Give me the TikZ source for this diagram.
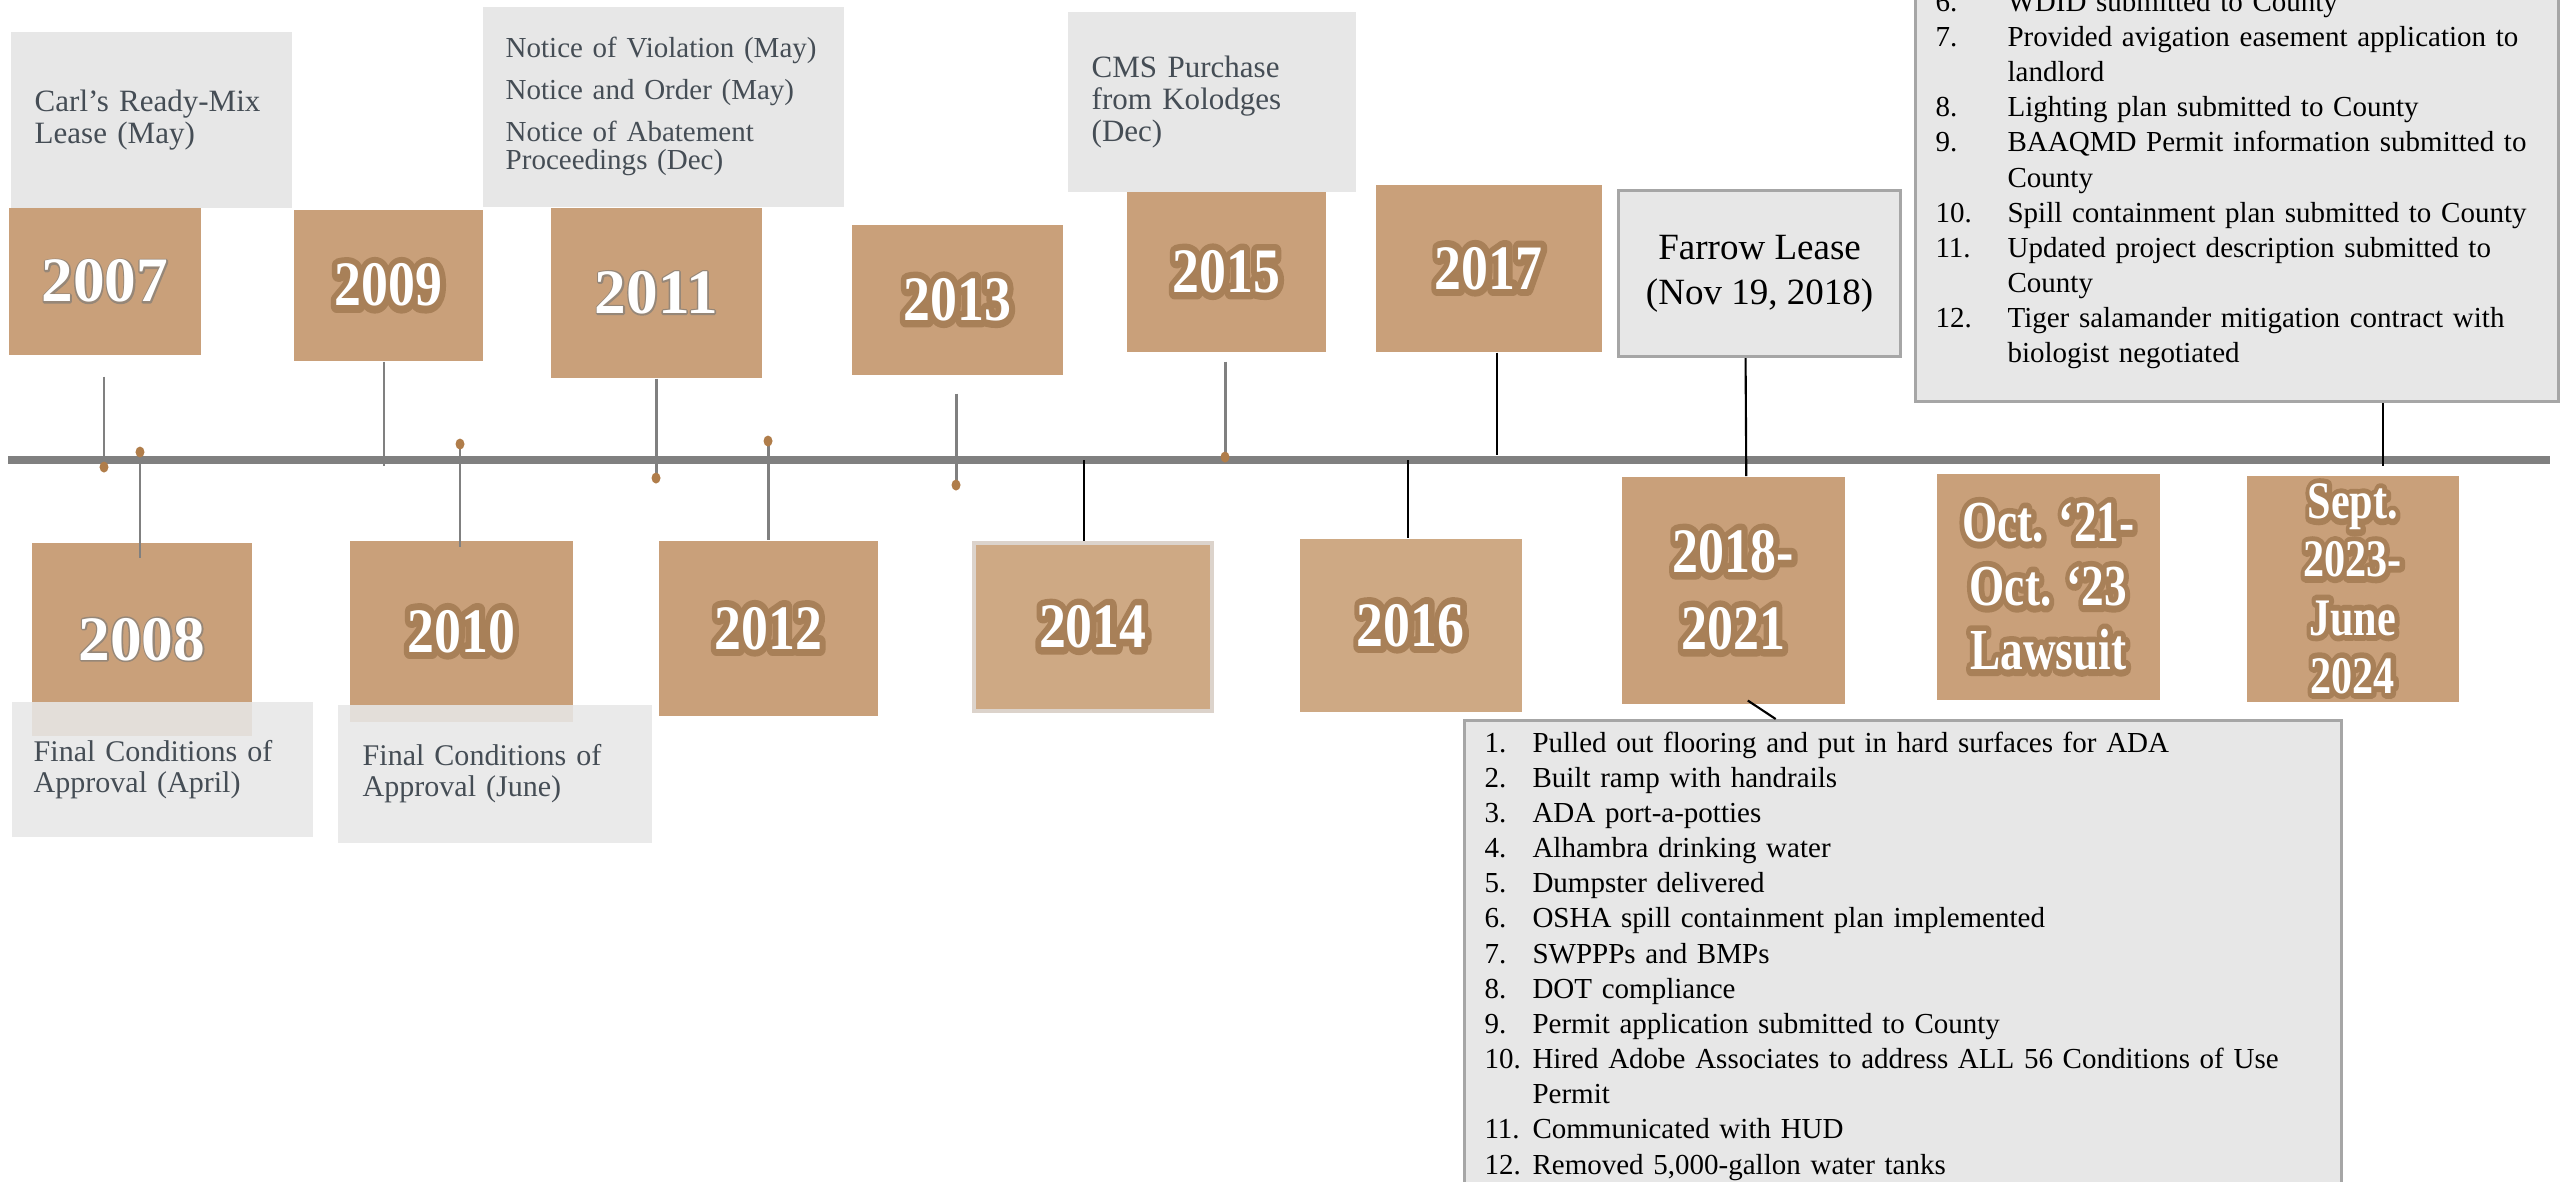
\documentclass[tikz,border=0pt]{standalone}
\usepackage{fontspec}
\setmainfont{Liberation Serif}
\newfontface\yrfat{Liberation Serif Bold}[FakeBold=22]
\newfontface\yrsoftfat{Liberation Serif Bold}[FakeBold=5]
\usepackage{graphicx}
\usepackage{tikz}
\usetikzlibrary{positioning,calc}
\definecolor{tltan}{RGB}{201,160,122}
\definecolor{tltanlt}{RGB}{206,169,132}
\definecolor{tltanedge}{RGB}{220,211,203}
\definecolor{tlbrown}{RGB}{168,128,88}
\definecolor{tlshade}{RGB}{150,135,120}
\definecolor{tldot}{RGB}{176,125,74}
\definecolor{tlgray}{RGB}{128,128,128}
\definecolor{notefill}{RGB}{231,231,231}
\definecolor{noteedge}{RGB}{166,166,166}
\definecolor{notetext}{RGB}{69,77,85}

% outlined year: fat brown copy (round joins) under the white one
\newcommand{\yr}[2][0.85]{\special{pdf:code 1 j}\scalebox{#1}[1]{\rlap{\textcolor{tlbrown}{\yrfat #2}}#2}}
\newcommand{\yrsoft}[1]{\special{pdf:code 1 j}\rlap{\textcolor{tlshade}{\yrsoftfat #1}}#1}

\begin{document}
\begin{tikzpicture}[
  x=0.01cm, y=-0.01cm,
  yearbox/.style={fill=tltan, inner sep=0pt, anchor=north west, text=white, align=center, font=\fontsize{18}{21.9}\selectfont\bfseries},
  yearlite/.style={yearbox, fill=tltanlt},
  note/.style={fill=notefill, inner sep=0pt, anchor=north west, text=notetext, align=left, font=\fontsize{8.82}{9.1}\selectfont},
  noteover/.style={note, fill opacity=0.88, text opacity=1},
  framed/.style={fill=notefill, draw=noteedge, line width=0.85pt},
  pin/.style={draw=tlgray, line width=0.85pt},
  stem/.style={draw=black, line width=0.6pt},
  bead/.style={fill=tldot},
]
  \useasboundingbox (0,0) rectangle (2560,1181);
  \clip (0,0) rectangle (2560,1181);

  % Years above the line
  \node[yearbox, minimum width=1.92cm, minimum height=1.47cm] (y2007) at (8,207) {\yrsoft{2007}};
  \node[yearbox, minimum width=1.89cm, minimum height=1.51cm] (y2009) at (293,209) {\yr{2009}};
  \node[yearbox, minimum width=2.11cm, minimum height=1.70cm] (y2011) at (550,207) {\yrsoft{2011}};
  \node[yearbox, minimum width=2.11cm, minimum height=1.50cm] (y2013) at (851,224) {\yr{2013}};
  \node[yearbox, minimum width=1.99cm, minimum height=1.60cm] (y2015) at (1126,191) {\yr{2015}};
  \node[yearbox, minimum width=2.26cm, minimum height=1.67cm] (y2017) at (1375,184) {\yr{2017}};

  % Years below the line
  \node[yearbox, minimum width=2.20cm, minimum height=1.93cm] (y2008) at (31,542) {\yrsoft{2008}};
  \node[yearbox, minimum width=2.23cm, minimum height=1.81cm] (y2010) at (349,540) {\yr{2010}};
  \node[yearbox, minimum width=2.19cm, minimum height=1.75cm] (y2012) at (658,540) {\yr{2012}};
  \node[yearlite, draw=tltanedge, line width=1pt, minimum width=2.38cm, minimum height=1.68cm] (y2014) at (972,541) {\yr{2014}};
  \node[yearlite, minimum width=2.22cm, minimum height=1.73cm] (y2016) at (1299,538) {\yr{2016}};
  \node[yearbox, minimum width=2.23cm, minimum height=2.27cm] (y2018) at (1621,476) {\yr[0.82]{2018-}\\\yr[0.82]{2021}};
  \node[yearbox, font=\fontsize{16.5}{18.2}\selectfont\bfseries, minimum width=2.23cm, minimum height=2.26cm] (ylaw) at (1936,473) {\yr[0.78]{Oct. ‘21-}\\\yr[0.78]{Oct. ‘23}\\\yr[0.78]{Lawsuit}};
  \node[yearbox, font=\fontsize{15}{16.5}\selectfont\bfseries, minimum width=2.12cm, minimum height=2.26cm] (ynow) at (2246,475) {\yr[0.8]{Sept.}\\\yr[0.8]{2023-}\\\yr[0.8]{June}\\\yr[0.8]{2024}};

  % Notes
  \node[note, minimum width=2.81cm, minimum height=1.76cm, text width=2.33cm, inner xsep=0.24cm] (carl) at (10,31) {Carl’s Ready-Mix\\Lease (May)};
  \node[note, minimum width=3.61cm, minimum height=2.00cm, text width=3.15cm, inner xsep=0.23cm, font=\fontsize{8.25}{7.97}\selectfont] (notice) at (482,6) {Notice of Violation (May)\\[0.14cm]Notice and Order (May)\\[0.14cm]Notice of Abatement\\Proceedings (Dec)};
  \node[note, minimum width=2.88cm, minimum height=1.80cm, text width=2.40cm, inner xsep=0.24cm] (cms) at (1067,11) {CMS Purchase\\from Kolodges\\(Dec)};
  \node[framed, anchor=north west, inner sep=0pt, align=center, minimum width=2.82cm, minimum height=1.66cm, font=\fontsize{10.53}{12.8}\selectfont] (farrow) at (1617,189) {Farrow Lease\\(Nov 19, 2018)};
  \node[noteover, minimum width=3.01cm, minimum height=1.35cm, text width=2.57cm, inner xsep=0.22cm, font=\fontsize{8.54}{8.82}\selectfont] (fcapril) at (11,701) {Final Conditions of\\Approval (April)};
  \node[noteover, minimum width=3.14cm, minimum height=1.38cm, text width=2.64cm, inner xsep=0.25cm, font=\fontsize{8.54}{8.82}\selectfont] (fcjune) at (337,704) {Final Conditions of\\Approval (June)};

  % Permit work list
  \node[framed, anchor=south west, inner xsep=0.2cm, inner ysep=0.28cm, text width=6.03cm, font=\fontsize{8.25}{10}\selectfont] (permits) at (1914,403) {%
    \begin{tabular}{@{}p{0.72cm}@{}l@{}}
      6.  & WDID submitted to County\\
      7.  & Provided avigation easement application to\\
          & landlord\\
      8.  & Lighting plan submitted to County\\
      9.  & BAAQMD Permit information submitted to\\
          & County\\
      10. & Spill containment plan submitted to County\\
      11. & Updated project description submitted to\\
          & County\\
      12. & Tiger salamander mitigation contract with\\
          & biologist negotiated
    \end{tabular}};

  % Site work list
  \node[framed, anchor=north west, inner xsep=0.2cm, inner ysep=0.07cm, text width=8.36cm, font=\fontsize{8.25}{10}\selectfont] (actions) at (1463,719) {%
    \begin{tabular}{@{}p{0.48cm}@{}l@{}}
      1.  & Pulled out flooring and put in hard surfaces for ADA\\
      2.  & Built ramp with handrails\\
      3.  & ADA port-a-potties\\
      4.  & Alhambra drinking water\\
      5.  & Dumpster delivered\\
      6.  & OSHA spill containment plan implemented\\
      7.  & SWPPPs and BMPs\\
      8.  & DOT compliance\\
      9.  & Permit application submitted to County\\
      10. & Hired Adobe Associates to address ALL 56 Conditions of Use\\
          & Permit\\
      11. & Communicated with HUD\\
      12. & Removed 5,000-gallon water tanks
    \end{tabular}};

  % Timeline
  \coordinate (tlL) at (8,460);
  \coordinate (tlR) at (2550,460);
  \draw[tlgray, line width=0.075cm] (tlL) -- (tlR);

  % Pins
  \coordinate (d2007) at (104,467);
  \coordinate (d2009) at (384,466);
  \coordinate (d2011) at (656,478);
  \coordinate (d2013) at (956,485);
  \coordinate (d2015) at (1225,457);
  \coordinate (d2008) at (140,452);
  \coordinate (d2010) at (460,444);
  \coordinate (d2012) at (768,441);
  \draw[pin, shorten <=0.21cm] (d2007 |- y2007.south) -- (d2007);
  \draw[pin] (d2009 |- y2009.south) -- (d2009);
  \draw[pin] (d2011 |- y2011.south) -- (d2011);
  \draw[pin, shorten <=0.18cm] (d2013 |- y2013.south) -- (d2013);
  \draw[pin, shorten <=0.09cm] (d2015 |- y2015.south) -- (d2015);
  \draw[pin, shorten >=-0.16cm] (d2008) -- (d2008 |- y2008.north);
  \draw[pin, shorten >=-0.07cm] (d2010) -- (d2010 |- y2010.north);
  \draw[pin] (d2012) -- (d2012 |- y2012.north);

  % Stems
  \coordinate (s2014) at (1084,460);
  \coordinate (s2016) at (1408,460);
  \coordinate (s2017) at (1497,455);
  \coordinate (s2024) at (2383,466);
  \draw[stem] (s2014) -- (s2014 |- y2014.north);
  \draw[stem] (s2016) -- (s2016 |- y2016.north);
  \draw[stem] (s2017 |- y2017.south) -- (s2017);
  \draw[stem] ([xshift=-0.14cm]farrow.south) -- ([xshift=0.13cm]y2018.north);
  \draw[stem] (s2024 |- permits.south) -- (s2024);
  \draw[stem] ([xshift=0.145cm,yshift=0.04cm]y2018.south) -- ([xshift=-1.27cm]actions.north);

  % Beads
  \fill[bead] (d2007) ellipse [x radius=0.045cm, y radius=0.055cm];
  \fill[bead] (d2011) ellipse [x radius=0.045cm, y radius=0.055cm];
  \fill[bead] (d2013) ellipse [x radius=0.045cm, y radius=0.055cm];
  \fill[bead] (d2015) ellipse [x radius=0.045cm, y radius=0.055cm];
  \fill[bead] (d2008) ellipse [x radius=0.045cm, y radius=0.055cm];
  \fill[bead] (d2010) ellipse [x radius=0.045cm, y radius=0.055cm];
  \fill[bead] (d2012) ellipse [x radius=0.045cm, y radius=0.055cm];
\end{tikzpicture}
\end{document}
